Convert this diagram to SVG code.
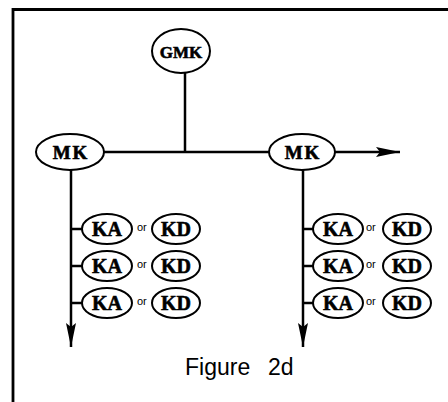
<svg xmlns="http://www.w3.org/2000/svg" width="448" height="402" viewBox="0 0 448 402">
<defs>
<style>
.frame{fill:none;stroke:#000;stroke-width:2.8}
.node ellipse{fill:#fff;stroke:#000;stroke-width:2}
.lbl{font-family:"Liberation Serif","DejaVu Serif",serif;font-weight:bold;text-anchor:middle;fill:#000;stroke:#000;stroke-width:0.6}
.or{font-family:"Liberation Sans",Arial,sans-serif;font-size:11px;fill:#000}
.edge{fill:none;stroke:#000;stroke-width:2.5}
.cap{font-family:"Liberation Sans",Arial,sans-serif;font-size:23px;fill:#000}
</style>
<marker id="ah" viewBox="0 0 24 10" refX="24" refY="5" markerWidth="24" markerHeight="10" markerUnits="userSpaceOnUse" orient="auto">
<path d="M0,0 L24,5 L0,10 L4,5 Z" fill="#000"/>
</marker>
</defs>
<rect width="448" height="402" fill="#fff"/>
<path class="frame" d="M13,402 V9.5 H448"/>
<g id="connectors">
<path class="edge" d="M185,73 V152"/>
<path class="edge" d="M104,152 H269"/>
<path class="edge" d="M335,152 H400" marker-end="url(#ah)"/>
<path class="edge" d="M71,170 V347" marker-end="url(#ah)"/>
<path class="edge" d="M303,170 V347" marker-end="url(#ah)"/>
<path class="edge" d="M71,229 H82 M71,266 H82 M71,303 H82"/>
<path class="edge" d="M303,229 H313 M303,266 H313 M303,303 H313"/>
</g>
<g id="gmk" class="node"><ellipse cx="181" cy="51" rx="29" ry="22"/><text class="lbl" x="181" y="57.5" font-size="17">GMK</text></g>
<g id="mk-left" class="node"><ellipse cx="70" cy="152" rx="34" ry="18"/><text class="lbl" x="71" y="158.5" font-size="19" letter-spacing="2">MK</text></g>
<g id="mk-right" class="node"><ellipse cx="302" cy="152" rx="33" ry="18"/><text class="lbl" x="303" y="158.5" font-size="19" letter-spacing="2">MK</text></g>
<g id="ka-l1" class="node"><ellipse cx="107" cy="229" rx="25" ry="15"/><text class="lbl" x="107" y="236" font-size="20">KA</text></g>
<g id="kd-l1" class="node"><ellipse cx="176" cy="229" rx="24" ry="15"/><text class="lbl" x="176" y="236" font-size="20">KD</text></g>
<g id="ka-l2" class="node"><ellipse cx="107" cy="266" rx="25" ry="15"/><text class="lbl" x="107" y="273" font-size="20">KA</text></g>
<g id="kd-l2" class="node"><ellipse cx="176" cy="266" rx="24" ry="15"/><text class="lbl" x="176" y="273" font-size="20">KD</text></g>
<g id="ka-l3" class="node"><ellipse cx="107" cy="303" rx="25" ry="15"/><text class="lbl" x="107" y="310" font-size="20">KA</text></g>
<g id="kd-l3" class="node"><ellipse cx="176" cy="303" rx="24" ry="15"/><text class="lbl" x="176" y="310" font-size="20">KD</text></g>
<g id="ka-r1" class="node"><ellipse cx="338" cy="229" rx="25" ry="15"/><text class="lbl" x="338" y="236" font-size="20">KA</text></g>
<g id="kd-r1" class="node"><ellipse cx="407" cy="229" rx="24" ry="15"/><text class="lbl" x="407" y="236" font-size="20">KD</text></g>
<g id="ka-r2" class="node"><ellipse cx="338" cy="266" rx="25" ry="15"/><text class="lbl" x="338" y="273" font-size="20">KA</text></g>
<g id="kd-r2" class="node"><ellipse cx="407" cy="266" rx="24" ry="15"/><text class="lbl" x="407" y="273" font-size="20">KD</text></g>
<g id="ka-r3" class="node"><ellipse cx="338" cy="303" rx="25" ry="15"/><text class="lbl" x="338" y="310" font-size="20">KA</text></g>
<g id="kd-r3" class="node"><ellipse cx="407" cy="303" rx="24" ry="15"/><text class="lbl" x="407" y="310" font-size="20">KD</text></g>
<text class="or" x="137" y="231">or</text>
<text class="or" x="137" y="268">or</text>
<text class="or" x="137" y="305">or</text>
<text class="or" x="366" y="231">or</text>
<text class="or" x="366" y="268">or</text>
<text class="or" x="366" y="305">or</text>
<text class="cap" y="375"><tspan x="185">Figure</tspan><tspan x="268">2d</tspan></text>
</svg>
